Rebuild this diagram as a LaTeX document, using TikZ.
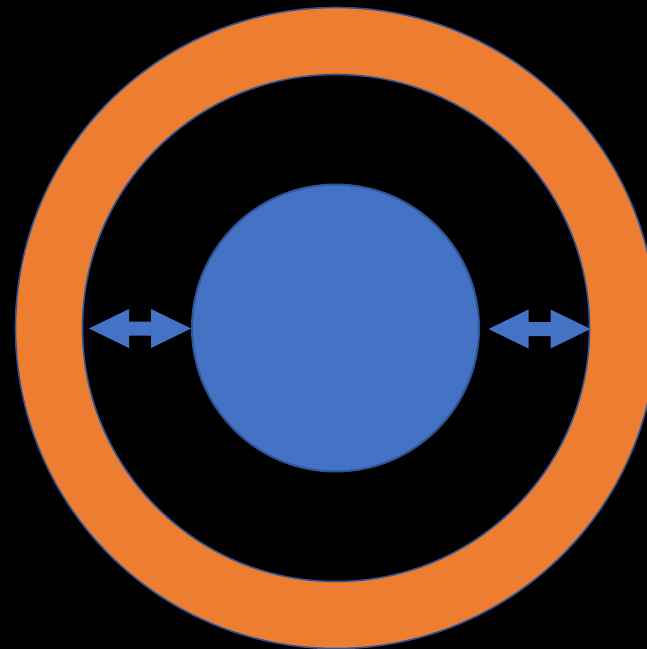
\documentclass[tikz,border=0pt]{standalone}
\usepackage{xcolor}
\usepackage{tikz}
\definecolor{ringorange}{HTML}{ED7D31}
\definecolor{coreblue}{HTML}{4472C4}
\definecolor{edgeblue}{HTML}{2F5597}

\begin{document}
\begin{tikzpicture}[
    x=1pt, y=-1pt,
    ring/.style={fill=ringorange, even odd rule},
    rim/.style={draw=edgeblue, line width=1.6pt},
    core/.style={circle, fill=coreblue, draw=edgeblue, line width=2pt, minimum size=287pt, inner sep=0pt},
    twoway/.pic={
      \fill[coreblue] (-51,0) -- (-11,-19.5) -- (-11,-7) -- (11,-7) -- (11,-19.5)
        -- (51,0) -- (11,19.5) -- (11,7) -- (-11,7) -- (-11,19.5) -- cycle;
    }
  ]
  % Background
  \fill[black] (0,0) rectangle (647,649);
  \useasboundingbox (0,0) rectangle (647,649);

  % Rings
  \coordinate (mid) at (336,328);
  \fill[ring] (mid) circle[radius=320.5] (mid) circle[radius=253.5];
  \draw[rim] (mid) circle[radius=320.5];
  \draw[rim] (mid) circle[radius=253.5];

  % Core
  \node[core] (ball) at (335.5,328) {};

  % Arrows
  \pic (gapl) at (140,328.5) {twoway};
  \pic (gapr) at (539.5,329) {twoway};
\end{tikzpicture}
\end{document}
